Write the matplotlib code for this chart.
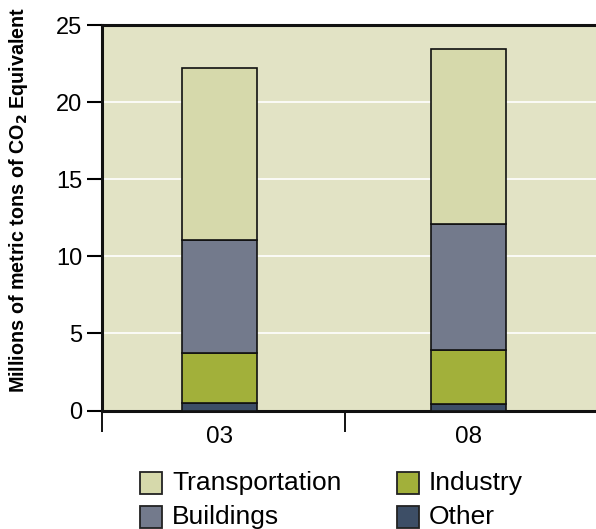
import matplotlib
matplotlib.use("Agg")
import matplotlib.pyplot as plt
from matplotlib.patches import Rectangle

plt.rcParams['font.family'] = ['Liberation Sans', 'DejaVu Sans']

categories = ["03", "08"]
series_names = ["Other", "Industry", "Buildings", "Transportation"]
other = [0.5, 0.45]
industry = [3.2, 3.45]
buildings = [7.35, 8.2]
transportation = [11.15, 11.35]
yticks = [0, 5, 10, 15, 20, 25]

colors = {"Transportation": "#D6D9AB", "Buildings": "#737A8C",
          "Industry": "#A2B03A", "Other": "#3D4E66"}
values = {"Other": other, "Industry": industry, "Buildings": buildings,
          "Transportation": transportation}

W, H = 596, 529
fig = plt.figure(figsize=(W / 100, H / 100), dpi=100)
ax = fig.add_axes([102 / W, 1 - 410.5 / H, 1 - 102 / W, 385.5 / H])
ax.set_facecolor("#E2E3C5")

pos = [0.48, 1.49]
bottom = [0.0, 0.0]
for name in series_names:
    ax.bar(pos, values[name], width=0.305, bottom=bottom, color=colors[name],
           edgecolor="#111111", linewidth=1.2, zorder=3)
    bottom = [b + v for b, v in zip(bottom, values[name])]

ax.set_ylim(0, 25)
ax.set_xlim(0, 2.01)
ax.set_yticks(yticks)
ax.yaxis.grid(True, color="white", linewidth=1.2, zorder=1)
ax.set_axisbelow(True)

ax.set_xticks([0, 0.99])
ax.set_xticklabels([])
ax.set_xticks(pos, minor=True)
ax.set_xticklabels(categories, minor=True)
ax.tick_params(axis="x", which="major", length=15, width=1.3, direction="out")
ax.tick_params(axis="x", which="minor", length=0, pad=11, labelsize=17.5)
ax.tick_params(axis="y", length=11, width=1.5, labelsize=17, pad=3)

for s in ["left", "bottom", "top"]:
    ax.spines[s].set_linewidth(2.2)
    ax.spines[s].set_color("#111111")
ax.spines["right"].set_visible(False)

ax.set_ylabel("Millions of metric tons of CO$_\\mathbf{2}$ Equivalent",
              fontsize=14.2, fontweight="bold")
ax.yaxis.set_label_coords(-0.145, 0.546)

# legend drawn in figure pixel coordinates
legend_items = [("Transportation", 140, 483), ("Buildings", 140, 517),
                ("Industry", 397, 483), ("Other", 397, 517)]
for name, x0, yc in legend_items:
    fig.add_artist(Rectangle((x0 / W, 1 - (yc + 11) / H), 22 / W, 22 / H,
                             transform=fig.transFigure, facecolor=colors[name],
                             edgecolor="#222222", linewidth=1.3))
    fig.text((x0 + 32) / W, 1 - yc / H, name, fontsize=19, va="center",
             ha="left")

fig.savefig("out.png", dpi=100)
